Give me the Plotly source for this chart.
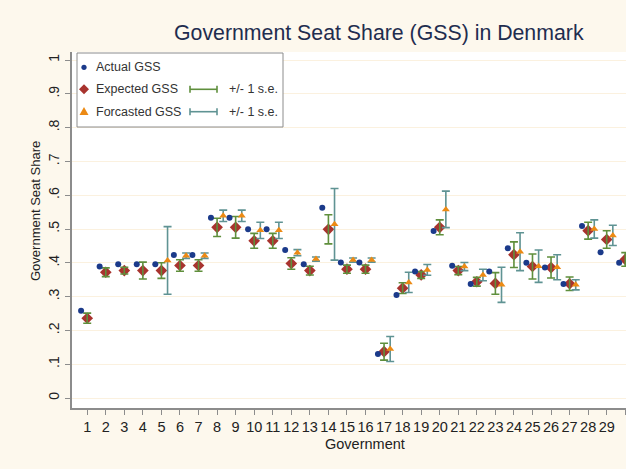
import plotly.graph_objects as go

# ---------------- data ----------------
government = list(range(1, 31))
tick_labels = [str(g) for g in government]

actual_gss = [0.258, 0.389, 0.396, 0.396, 0.396, 0.423, 0.423, 0.533, 0.533, 0.499,
              0.499, 0.438, 0.396, 0.563, 0.401, 0.401, 0.130, 0.305, 0.374, 0.494,
              0.391, 0.337, 0.374, 0.443, 0.400, 0.386, 0.337, 0.509, 0.431, 0.400]

expected_gss = [0.236, 0.372, 0.377, 0.377, 0.377, 0.392, 0.392, 0.505, 0.505, 0.465,
                0.465, 0.398, 0.377, 0.499, 0.381, 0.381, 0.137, 0.325, 0.364, 0.505,
                0.377, 0.344, 0.339, 0.424, 0.389, 0.386, 0.338, 0.495, 0.469, 0.410]
expected_se = [0.015, 0.013, 0.010, 0.025, 0.023, 0.017, 0.017, 0.027, 0.032, 0.022,
               0.022, 0.017, 0.013, 0.043, 0.012, 0.012, 0.025, 0.016, 0.010, 0.022,
               0.012, 0.013, 0.032, 0.038, 0.037, 0.031, 0.020, 0.025, 0.026, 0.020]

forecast_gss = [None, None, None, None, 0.407, 0.421, 0.421, 0.539, 0.539, 0.496,
                0.496, 0.430, 0.411, 0.514, 0.408, 0.408, 0.145, 0.342, 0.379, 0.558,
                0.389, 0.364, 0.335, 0.433, 0.390, 0.387, 0.335, 0.500, 0.481, 0.410]
forecast_se = [None, None, None, None, 0.100, 0.008, 0.008, 0.017, 0.017, 0.024,
               0.024, 0.009, 0.006, 0.106, 0.006, 0.006, 0.037, 0.030, 0.016, 0.054,
               0.012, 0.017, 0.052, 0.056, 0.048, 0.037, 0.015, 0.027, 0.030, 0.020]

y_tick_vals = [0, 0.1, 0.2, 0.3, 0.4, 0.5, 0.6, 0.7, 0.8, 0.9, 1.0]
y_tick_text = ["0", ".1", ".2", ".3", ".4", ".5", ".6", ".7", ".8", ".9", "1"]

# ---------------- styles ----------------
NAVY = "#1b3a8a"
RED = "#a8332e"
ORANGE = "#ec8a14"
GREEN = "#5f8f3c"
TEAL = "#5f9393"
BG = "#fdf8ed"
FONT = "Liberation Sans, Arial, sans-serif"

x_act = [g - 0.33 for g in government]
x_exp = list(government)
x_for = [g + 0.33 for g in government]

fig = go.Figure()

fig.add_trace(go.Scatter(x=x_exp, y=expected_gss, mode="markers",
                         marker=dict(symbol="diamond", size=9, color=RED,
                                     line=dict(width=0)), hoverinfo="skip"))
fig.add_trace(go.Scatter(x=x_exp, y=expected_gss, mode="markers",
                         marker=dict(size=1, color="rgba(0,0,0,0)"),
                         error_y=dict(type="data", array=expected_se, symmetric=True,
                                      color=GREEN, thickness=1.6, width=4),
                         hoverinfo="skip"))
fig.add_trace(go.Scatter(x=x_for, y=forecast_gss, mode="markers",
                         marker=dict(size=1, color="rgba(0,0,0,0)"),
                         error_y=dict(type="data", array=forecast_se, symmetric=True,
                                      color=TEAL, thickness=1.6, width=4),
                         hoverinfo="skip"))
fig.add_trace(go.Scatter(x=x_for, y=forecast_gss, mode="markers",
                         marker=dict(symbol="triangle-up", size=7, color=ORANGE,
                                     line=dict(width=0)), hoverinfo="skip"))
fig.add_trace(go.Scatter(x=x_act, y=actual_gss, mode="markers",
                         marker=dict(symbol="circle", size=6, color=NAVY,
                                     line=dict(width=0)), hoverinfo="skip"))

# ---------------- pixel -> paper helpers (legend decoration) ----------------
L, R, T, B = 72, 626, 52, 408
def px(x):
    return (x - L) / (R - L)
def py(y):
    return (B - y) / (B - T)

shapes = []
annotations = []

# legend box
shapes.append(dict(type="rect", xref="paper", yref="paper",
                   x0=px(77), x1=px(283), y0=py(127), y1=py(53),
                   fillcolor="white", line=dict(color="#8c8c8c", width=1), layer="above"))
# dot
r = 2.6
shapes.append(dict(type="circle", xref="paper", yref="paper",
                   x0=px(84 - r), x1=px(84 + r), y0=py(67.3 + r), y1=py(67.3 - r),
                   fillcolor=NAVY, line=dict(width=0), layer="above"))
# diamond
cx, cy, d = 84, 89.3, 5
shapes.append(dict(type="path", xref="paper", yref="paper",
                   path=f"M {px(cx-d)} {py(cy)} L {px(cx)} {py(cy-d)} L {px(cx+d)} {py(cy)} L {px(cx)} {py(cy+d)} Z",
                   fillcolor=RED, line=dict(width=0), layer="above"))
# triangle
cx, cy = 84, 111.5
shapes.append(dict(type="path", xref="paper", yref="paper",
                   path=f"M {px(cx-4.5)} {py(cy+3.5)} L {px(cx+4.5)} {py(cy+3.5)} L {px(cx)} {py(cy-4.5)} Z",
                   fillcolor=ORANGE, line=dict(width=0), layer="above"))
# error-bar icons
for yy, col in [(89.3, GREEN), (111.7, TEAL)]:
    shapes.append(dict(type="line", xref="paper", yref="paper",
                       x0=px(190), x1=px(217), y0=py(yy), y1=py(yy),
                       line=dict(color=col, width=1.6), layer="above"))
    for xx in (190, 217):
        shapes.append(dict(type="line", xref="paper", yref="paper",
                           x0=px(xx), x1=px(xx), y0=py(yy - 3.5), y1=py(yy + 3.5),
                           line=dict(color=col, width=1.6), layer="above"))

leg_font = dict(family=FONT, size=12.5, color="#333333")
for txt, xx, yy in [("Actual GSS", 94, 67.3), ("Expected GSS", 94, 89.3),
                    ("Forcasted GSS", 94, 111.7), ("+/- 1 s.e.", 227, 89.3),
                    ("+/- 1 s.e.", 227, 111.7)]:
    annotations.append(dict(text=txt, xref="paper", yref="paper", x=px(xx), y=py(yy),
                            xanchor="left", yanchor="middle", showarrow=False, font=leg_font))

# titles
annotations.append(dict(text="Government Seat Share (GSS) in Denmark", xref="paper", yref="paper",
                        x=px(379), y=py(33), xanchor="center", yanchor="middle", showarrow=False,
                        font=dict(family=FONT, size=21.3, color="#1f2d4f")))
annotations.append(dict(text="Government", xref="paper", yref="paper",
                        x=px(365), y=py(444), xanchor="center", yanchor="middle", showarrow=False,
                        font=dict(family=FONT, size=14.5, color="#222222")))
annotations.append(dict(text="Government Seat Share", xref="paper", yref="paper",
                        x=px(35), y=py(211), xanchor="center", yanchor="middle", showarrow=False,
                        textangle=-90, font=dict(family=FONT, size=13, color="#222222")))

fig.update_layout(
    width=626, height=469,
    paper_bgcolor=BG, plot_bgcolor="white",
    margin=dict(l=L, r=626 - R, t=T, b=469 - B, pad=0),
    showlegend=False,
    font=dict(family=FONT),
    shapes=shapes, annotations=annotations,
    xaxis=dict(range=[0.18, 30.04], tickvals=government, ticktext=tick_labels,
               tickangle=0,
               ticks="outside", ticklen=5, tickcolor="#8c8c8c", tickwidth=1,
               showline=True, linecolor="#8c8c8c", linewidth=1.5,
               showgrid=False, zeroline=False, automargin=False,
               tickfont=dict(family=FONT, size=14.5, color="#222222")),
    yaxis=dict(range=[-0.0296, 1.0237], tickvals=y_tick_vals, ticktext=y_tick_text,
               tickangle=-90, ticks="outside", ticklen=5, tickcolor="#8c8c8c", tickwidth=1,
               showline=True, linecolor="#8c8c8c", linewidth=2,
               showgrid=True, gridcolor="#fbf1df", gridwidth=1,
               zeroline=False, automargin=False,
               tickfont=dict(family=FONT, size=14, color="#222222")),
)

fig.write_html("out.html", config={"displayModeBar": False},
               post_script="document.body.style.margin='0';document.body.style.background='#fdf8ed';")
